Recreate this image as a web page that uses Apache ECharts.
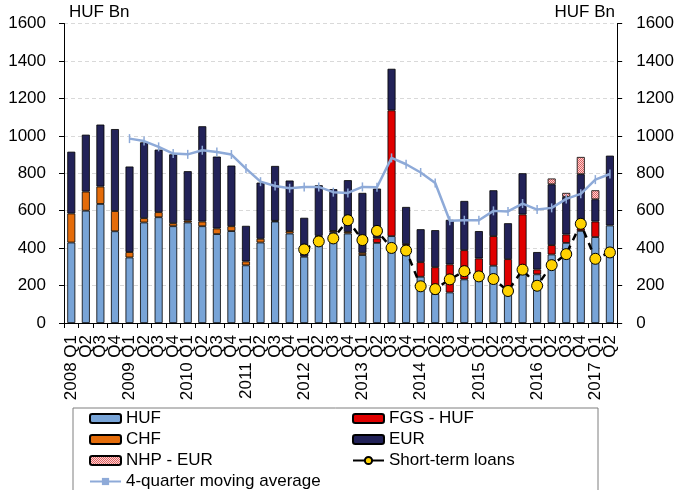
<!DOCTYPE html>
<html>
<head>
<meta charset="utf-8">
<script src="https://cdn.jsdelivr.net/npm/echarts@6/dist/echarts.min.js"></script>
<style>
  html, body { margin: 0; padding: 0; background: #fff; }
  #main { width: 677px; height: 490px; }
</style>
</head>
<body>
<div id="main"></div>
<script>
var categories = [
  '2008 Q1', 'Q2', 'Q3', 'Q4', '2009 Q1', 'Q2', 'Q3', 'Q4',
  '2010 Q1', 'Q2', 'Q3', 'Q4', '2011 Q1', 'Q2', 'Q3', 'Q4',
  '2012 Q1', 'Q2', 'Q3', 'Q4', '2013 Q1', 'Q2', 'Q3', 'Q4',
  '2014 Q1', 'Q2', 'Q3', 'Q4', '2015 Q1', 'Q2', 'Q3', 'Q4',
  '2016 Q1', 'Q2', 'Q3', 'Q4', '2017 Q1', 'Q2'
];

// HUF Bn
var huf = [430, 600, 636, 490, 350, 537, 565, 517, 537, 517, 475, 491, 308, 430, 542, 478,
  354, 460, 484, 478, 363, 428, 464, 414, 247, 155, 163, 233, 240, 306, 165, 286,
  260, 366, 428, 492, 459, 521];
var chf = [155, 102, 93, 108, 29, 23, 27, 16, 10, 25, 30, 26, 21, 20, 4, 13,
  0, 6, 8, 9, 12, 0, 0, 0, 0, 0, 0, 0, 0, 0, 0, 0,
  0, 0, 0, 0, 0, 0];
var fgsHuf = [0, 0, 0, 0, 0, 0, 0, 0, 0, 0, 0, 0, 0, 0, 0, 0,
  0, 0, 0, 0, 0, 24, 672, 8, 78, 143, 150, 156, 105, 158, 176, 294,
  26, 50, 45, 13, 83, 0];
var eur = [330, 304, 331, 438, 457, 405, 334, 368, 264, 509, 384, 324, 190, 300, 293, 270,
  208, 270, 223, 276, 320, 266, 222, 198, 176, 198, 238, 263, 146, 245, 192, 220,
  93, 325, 201, 290, 119, 373];
var nhpEur = [0, 0, 0, 0, 0, 0, 0, 0, 0, 0, 0, 0, 0, 0, 0, 0,
  0, 0, 0, 0, 0, 0, 0, 0, 0, 0, 0, 0, 0, 0, 0, 0,
  0, 31, 21, 92, 48, 0];
var shortTerm = [null, null, null, null, null, null, null, null, null, null, null, null, null, null, null, null,
  393, 436, 452, 549, 443, 492, 401, 387, 196, 181, 233, 277, 249, 235, 171, 285,
  199, 309, 368, 530, 343, 377];
var movingAvg = [null, null, null, null, 985, 972, 941, 905, 901, 923, 914, 900, 825, 755, 732, 720,
  727, 727, 699, 695, 727, 725, 882, 848, 804, 748, 546, 549, 549, 599, 596, 638,
  606, 615, 663, 690, 766, 796];

var yTicks = { min: 0, max: 1600, interval: 200 };

var FONT = 'Liberation Sans';
var FS = 17;

// dotted pink fill for NHP - EUR
var pat = document.createElement('canvas');
pat.width = 2; pat.height = 2;
var pc = pat.getContext('2d');
pc.fillStyle = '#fbd3d3'; pc.fillRect(0, 0, 2, 2);
pc.fillStyle = '#e06060'; pc.fillRect(0, 0, 1, 1); pc.fillRect(1, 1, 1, 1);

function nz(arr) { return arr.map(function (v) { return v ? v : null; }); }

function barSeries(name, data, color) {
  return {
    name: name, type: 'bar', stack: 'total', data: nz(data),
    barWidth: 8,
    itemStyle: { color: color, borderColor: '#000', borderWidth: 0.8 }
  };
}

var chart = echarts.init(document.getElementById('main'), null, { renderer: 'canvas' });

function legendAt(name, left, top) {
  return {
    data: [name], left: left, top: top, padding: 0,
    itemWidth: 31, itemHeight: 9, itemGap: 4,
    lineStyle: { type: 'solid' },
    textStyle: { fontFamily: FONT, fontSize: FS, color: '#000' }
  };
}

var plainNum = function (v) { return String(v); };

var option = {
  animation: false,
  textStyle: { fontFamily: FONT },
  grid: { left: 64, right: 53, top: 23.5, bottom: 167, containLabel: false },
  legend: [
    legendAt('HUF', 89, 410),
    legendAt('FGS - HUF', 352, 410),
    legendAt('CHF', 89, 431),
    legendAt('EUR', 352, 431),
    legendAt('NHP - EUR', 89, 452),
    legendAt('Short-term loans', 352, 452),
    legendAt('4-quarter moving average', 89, 473)
  ],
  graphic: [
    { type: 'rect', shape: { x: 73, y: 408, width: 525, height: 100 },
      style: { fill: null, stroke: '#7f7f7f', lineWidth: 1 }, z: -1 },
    { type: 'text', left: 69, top: 4,
      style: { text: 'HUF Bn', font: FS + 'px ' + FONT, fill: '#000' } },
    { type: 'text', right: 62, top: 4,
      style: { text: 'HUF Bn', font: FS + 'px ' + FONT, fill: '#000' } }
  ],
  xAxis: [{
    type: 'category', data: categories, boundaryGap: true,
    axisLine: { lineStyle: { color: '#000', width: 1 } },
    axisTick: { show: true, length: 5, lineStyle: { color: '#000' } },
    axisLabel: { rotate: 90, interval: 0, margin: 12, color: '#000', fontFamily: FONT, fontSize: FS }
  }, {
    type: 'category', data: categories, position: 'top',
    axisLine: { show: true, lineStyle: { color: '#000', width: 1 } },
    axisTick: { show: false }, axisLabel: { show: false }
  }],
  yAxis: [{
    type: 'value', min: yTicks.min, max: yTicks.max, interval: yTicks.interval,
    axisLine: { show: true, lineStyle: { color: '#000' } },
    axisTick: { show: true, length: 5, lineStyle: { color: '#000' } },
    axisLabel: { margin: 18, color: '#000', fontFamily: FONT, fontSize: FS, formatter: plainNum },
    splitLine: { show: true, lineStyle: { color: '#d9d9d9', type: [4, 3] } }
  }, {
    type: 'value', position: 'right', min: yTicks.min, max: yTicks.max, interval: yTicks.interval,
    axisLine: { show: true, lineStyle: { color: '#000' } },
    axisTick: { show: true, length: 5, lineStyle: { color: '#000' } },
    axisLabel: { margin: 19, color: '#000', fontFamily: FONT, fontSize: FS, formatter: plainNum },
    splitLine: { show: false }
  }],
  series: [
    barSeries('HUF', huf, '#78a4d7'),
    barSeries('CHF', chf, '#e46c0a'),
    barSeries('FGS - HUF', fgsHuf, '#e00000'),
    barSeries('EUR', eur, '#222258'),
    barSeries('NHP - EUR', nhpEur, { image: pat, repeat: 'repeat' }),
    {
      name: '4-quarter moving average', type: 'line', data: movingAvg,
      symbol: 'rect', symbolSize: [1.5, 9], z: 3,
      itemStyle: { color: '#8eaad8' },
      lineStyle: { color: '#8eaad8', width: 2.5 }
    },
    {
      name: 'Short-term loans', type: 'line', data: shortTerm,
      symbol: 'circle', symbolSize: 11, z: 4,
      itemStyle: { color: '#ffd200', borderColor: '#000', borderWidth: 1 },
      lineStyle: { color: '#000', width: 2.5, type: [7, 6] }
    }
  ]
};

chart.setOption(option);
</script>
</body>
</html>
